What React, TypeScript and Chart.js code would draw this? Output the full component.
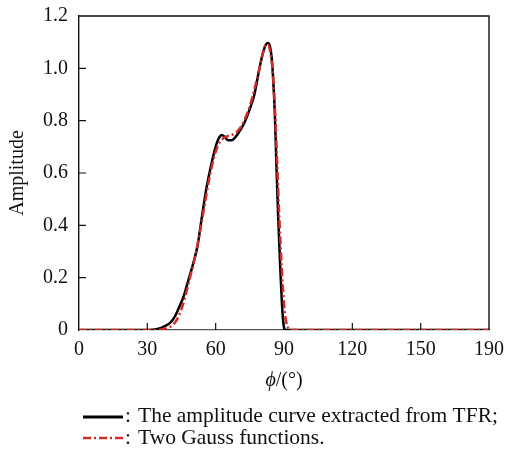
import React, { useEffect, useRef } from "react";
import { Chart, registerables } from "chart.js";

Chart.register(...registerables);

// Black curve: amplitude curve extracted from TFR
const tfrPhi = [0, 30, 32, 36, 40, 42, 44, 46, 48, 50, 52, 54, 56, 58, 60, 61.5, 62.7, 64, 65.5, 67, 68.5, 70.5, 72.5, 75, 77, 79, 80.5, 82, 82.8, 83.8, 84.6, 85.3, 86, 86.7, 87.5, 88.3, 89.1, 89.8, 90.5, 180];
const tfrAmp = [0, 0, 0.001, 0.008, 0.027, 0.05, 0.088, 0.13, 0.19, 0.25, 0.32, 0.435, 0.545, 0.63, 0.7, 0.735, 0.745, 0.738, 0.725, 0.725, 0.735, 0.76, 0.79, 0.845, 0.9, 0.99, 1.05, 1.09, 1.097, 1.085, 1.04, 0.95, 0.82, 0.62, 0.42, 0.25, 0.1, 0.02, 0, 0];

// Red dash-dot curve: two Gauss functions
const gaussPhi = [0, 33, 36, 39, 41, 43, 45, 47, 49, 51, 53, 55, 57, 59, 61, 63, 65, 67, 69, 71, 73, 75, 77, 79, 80.5, 82, 83, 84, 85, 86, 87, 88, 89, 90, 91, 92, 93, 180];
const gaussAmp = [0, 0, 0.002, 0.008, 0.018, 0.04, 0.08, 0.14, 0.21, 0.28, 0.37, 0.47, 0.57, 0.65, 0.705, 0.73, 0.74, 0.745, 0.755, 0.775, 0.81, 0.855, 0.92, 0.99, 1.05, 1.09, 1.09, 1.06, 0.99, 0.85, 0.64, 0.42, 0.24, 0.1, 0.03, 0.005, 0, 0];

const xTickValues = [0, 30, 60, 90, 120, 150, 180];
const xTickLabels = ["0", "30", "60", "90", "120", "150", "190"];
const yTickLabels = ["0", "0.2", "0.4", "0.6", "0.8", "1.0", "1.2"];

const seriesNames = [
  "The amplitude curve extracted from TFR;",
  "Two Gauss functions.",
];

const FONT = '"Liberation Serif", "Times New Roman", serif';
const RED = "#d42a2a";
const RED_DASH = [8, 3, 2, 3];

const toPoints = (xs: number[], ys: number[]) => xs.map((x, i) => ({ x, y: ys[i] }));

const decorPlugin = {
  id: "decor",
  afterDraw(chart: any) {
    const ctx = chart.ctx;
    const a = chart.chartArea;
    const xs = chart.scales.x;
    const ys = chart.scales.y;
    ctx.save();
    // box top and right
    ctx.strokeStyle = "#111";
    ctx.lineWidth = 1.4;
    ctx.beginPath();
    ctx.moveTo(a.left, a.top);
    ctx.lineTo(a.right, a.top);
    ctx.lineTo(a.right, a.bottom);
    ctx.stroke();
    // inward ticks
    ctx.lineWidth = 1.2;
    ctx.beginPath();
    xs.ticks.forEach((t: any) => {
      const px = xs.getPixelForValue(t.value);
      if (px > a.left + 2 && px < a.right - 2) {
        ctx.moveTo(px, a.bottom);
        ctx.lineTo(px, a.bottom - 7);
      }
    });
    ys.ticks.forEach((t: any) => {
      const py = ys.getPixelForValue(t.value);
      if (py > a.top + 2 && py < a.bottom - 2) {
        ctx.moveTo(a.left, py);
        ctx.lineTo(a.left + 7, py);
      }
    });
    ctx.stroke();

    // x-axis title: italic phi + upright rest
    ctx.fillStyle = "#111";
    ctx.textBaseline = "middle";
    const cx = (a.left + a.right) / 2;
    const ty = a.bottom + 51;
    ctx.font = `italic 20px ${FONT}`;
    const p1 = "\u03d5";
    const w1 = ctx.measureText(p1).width;
    ctx.font = `20px ${FONT}`;
    const p2 = "/(\u00b0)";
    const w2 = ctx.measureText(p2).width;
    const sx = cx - (w1 + w2) / 2;
    ctx.font = `italic 20px ${FONT}`;
    ctx.textAlign = "left";
    ctx.fillText(p1, sx, ty);
    ctx.font = `20px ${FONT}`;
    ctx.fillText(p2, sx + w1, ty);

    // legend
    const lx0 = 83;
    const lx1 = 123;
    const lineY = [a.bottom + 87, a.bottom + 108];
    const baseY = [a.bottom + 92, a.bottom + 114];
    ctx.strokeStyle = "#000";
    ctx.lineWidth = 3;
    ctx.setLineDash([]);
    ctx.beginPath();
    ctx.moveTo(lx0, lineY[0]);
    ctx.lineTo(lx1, lineY[0]);
    ctx.stroke();
    ctx.strokeStyle = RED;
    ctx.lineWidth = 2.5;
    ctx.setLineDash(RED_DASH);
    ctx.beginPath();
    ctx.moveTo(lx0, lineY[1]);
    ctx.lineTo(lx1, lineY[1]);
    ctx.stroke();
    ctx.setLineDash([]);
    ctx.font = `21.5px ${FONT}`;
    ctx.fillStyle = "#111";
    ctx.textBaseline = "alphabetic";
    for (let i = 0; i < 2; i++) {
      ctx.fillText(":", lx1 + 2, baseY[i]);
      ctx.fillText(seriesNames[i], lx1 + 15, baseY[i]);
    }
    ctx.restore();
  },
};

export default function App() {
  const ref = useRef<HTMLCanvasElement | null>(null);
  useEffect(() => {
    if (!ref.current) return;
    document.body.style.margin = "0";
    const chart = new Chart(ref.current, {
      type: "line",
      data: {
        datasets: [
          {
            label: "Two Gauss functions",
            data: toPoints(gaussPhi, gaussAmp),
            borderColor: RED,
            borderWidth: 2.5,
            borderDash: RED_DASH,
            pointRadius: 0,
            cubicInterpolationMode: "monotone",
            fill: false,
          },
          {
            label: "The amplitude curve extracted from TFR",
            data: toPoints(tfrPhi, tfrAmp),
            borderColor: "#000",
            borderWidth: 2.5,
            pointRadius: 0,
            cubicInterpolationMode: "monotone",
            fill: false,
          },
        ],
      },
      options: {
        animation: false,
        responsive: true,
        maintainAspectRatio: false,
        layout: { autoPadding: false, padding: { left: 0, right: 16, top: 16, bottom: 56 } },
        plugins: { legend: { display: false }, tooltip: { enabled: false } },
        scales: {
          x: {
            type: "linear",
            min: 0,
            max: 180,
            afterBuildTicks: (s: any) => {
              s.ticks = xTickValues.map((v) => ({ value: v }));
            },
            afterFit: (s: any) => {
              s.height = 64;
              s.paddingLeft = 0;
              s.paddingRight = 0;
              s.paddingTop = 0;
              s.paddingBottom = 0;
            },
            grid: { display: false, drawTicks: false },
            border: { display: true, color: "#555", width: 1.2 },
            ticks: {
              padding: 10,
              color: "#111",
              maxRotation: 0,
              font: { family: FONT, size: 20, lineHeight: 1 },
              callback: (_v: any, i: number) => xTickLabels[i],
            },
          },
          y: {
            type: "linear",
            min: 0,
            max: 1.2,
            afterBuildTicks: (s: any) => {
              s.ticks = yTickLabels.map((_l, i) => ({ value: i * 0.2 }));
            },
            afterFit: (s: any) => {
              s.width = 79;
              s.paddingLeft = 0;
              s.paddingRight = 0;
              s.paddingTop = 0;
              s.paddingBottom = 0;
            },
            grid: { display: false, drawTicks: false },
            border: { display: true, color: "#111", width: 1.4 },
            title: {
              display: true,
              text: "Amplitude",
              color: "#111",
              font: { family: FONT, size: 20, lineHeight: 1 },
              padding: { top: 8, bottom: 0 },
            },
            ticks: {
              padding: 11,
              color: "#111",
              font: { family: FONT, size: 20, lineHeight: 1 },
              callback: (_v: any, i: number) => yTickLabels[i],
            },
          },
        },
      },
      plugins: [decorPlugin],
    });
    return () => chart.destroy();
  }, []);
  return (
    <div style={{ width: 505, height: 450, position: "relative" }}>
      <canvas ref={ref} />
    </div>
  );
}
